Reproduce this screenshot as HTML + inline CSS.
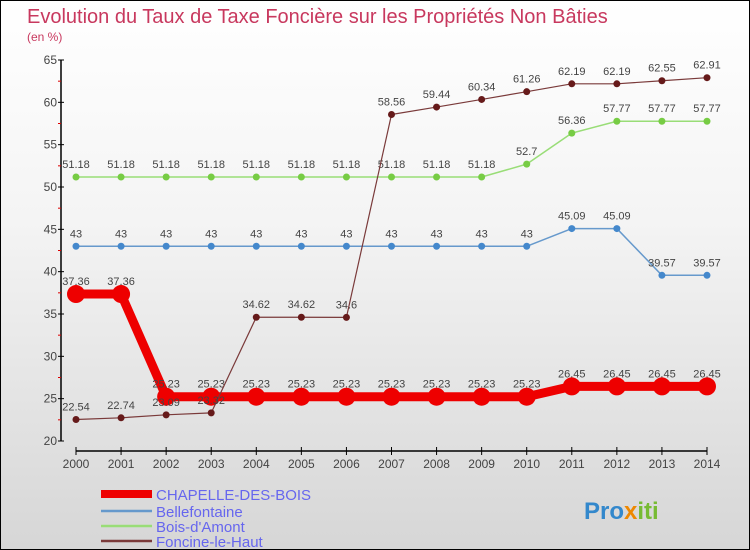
<!DOCTYPE html>
<html><head><meta charset="utf-8"><style>
body{margin:0}
#c{width:750px;height:550px;position:relative;overflow:hidden;background:linear-gradient(#ffffff,#f4f4f4 40%,#d6d6d6);box-sizing:border-box;border:1px solid #000;font-family:"Liberation Sans",sans-serif}
</style></head><body>
<div id="c">
<svg id="s" width="750" height="550" style="position:absolute;left:0;top:0">
<text x="26" y="22" font-size="20" fill="#c8385e">Evolution du Taux de Taxe Foncière sur les Propriétés Non Bâties</text>
<text x="26" y="40" font-size="12" fill="#c8385e">(en %)</text>
</svg>
</div>
<script>
const years=[2000,2001,2002,2003,2004,2005,2006,2007,2008,2009,2010,2011,2012,2013,2014];
const chapelle=[37.36,37.36,25.23,25.23,25.23,25.23,25.23,25.23,25.23,25.23,25.23,26.45,26.45,26.45,26.45];
const bellefontaine=[43,43,43,43,43,43,43,43,43,43,43,45.09,45.09,39.57,39.57];
const boisAmont=[51.18,51.18,51.18,51.18,51.18,51.18,51.18,51.18,51.18,51.18,52.7,56.36,57.77,57.77,57.77];
const foncine=[22.54,22.74,23.09,23.32,34.62,34.62,34.6,58.56,59.44,60.34,61.26,62.19,62.19,62.55,62.91];
const yTicks=[20,25,30,35,40,45,50,55,60,65];
const NS="http://www.w3.org/2000/svg";
const s=document.getElementById('s');
const xs=i=>75+i*(631/14);
const ys=v=>440-(v-20)*(381/45);
function el(t,a,p){const e=document.createElementNS(NS,t);for(const k in a)e.setAttribute(k,a[k]);(p||s).appendChild(e);return e;}
let ax=el('line',{x1:60,y1:59,x2:60,y2:440,stroke:'#000','stroke-width':1.5});


yTicks.forEach(v=>{
 el('line',{x1:57,x2:63,y1:ys(v),y2:ys(v),stroke:'#000'});
 if(v<65){let m=el('line',{x1:57,x2:60,y1:ys(v+2.5),y2:ys(v+2.5),stroke:'#d00'});}
 let t=el('text',{x:56,y:ys(v)+4,'font-size':12,fill:'#444','text-anchor':'end'});t.textContent=v;
 
 
});
let xa=el('line',{x1:75,y1:450,x2:706,y2:450,stroke:'#000','stroke-width':1.5});


years.forEach((y,i)=>{
 el('line',{x1:xs(i),x2:xs(i),y1:446,y2:454,stroke:'#000'});
 let t=el('text',{x:xs(i),y:467,'font-size':12,fill:'#444','text-anchor':'middle'});t.textContent=y;
 
 
});
function series(d,color,lw,r,ptc,name){
 const g=el('g',{});
 
 
 el('polyline',{points:d.map((v,i)=>xs(i)+','+ys(v)).join(' '),fill:'none',stroke:color,'stroke-width':lw,'stroke-linejoin':'round'},g);
 d.forEach((v,i)=>{
  let c=el('circle',{cx:xs(i),cy:ys(v),r:r,fill:ptc},g);
  
  
  let t=el('text',{x:xs(i),y:ys(v)-9,'font-size':11,fill:'#444','text-anchor':'middle'},g);t.textContent=v;
 });
}
series(boisAmont,'#99dd77',1.5,3.5,'#77cc44','series-bois-damont');
series(bellefontaine,'#6699cc',1.5,3.5,'#4488cc','series-bellefontaine');
series(chapelle,'#ee0000',9,9,'#ee0000','series-chapelle-des-bois');
series(foncine,'#7a3a3a',1.2,3.5,'#661a1a','series-foncine-le-haut');
const leg=[['CHAPELLE-DES-BOIS','#ee0000',8],['Bellefontaine','#6699cc',2.5],["Bois-d'Amont",'#99dd77',2.5],['Foncine-le-Haut','#7a3a3a',2.5]];
leg.forEach((l,i)=>{
 const y=[493,510,525,540][i];
 const g=el('g',{});
 
 
 el('line',{x1:100,x2:151,y1:y,y2:y,stroke:l[1],'stroke-width':l[2]},g);
 let t=el('text',{x:155,y:y+6,'font-size':15,fill:'#6666ee'},g);t.textContent=l[0];
});
const lg=el('text',{x:583,y:518,'font-size':24,'font-weight':'bold',fill:'#3399cc'});


lg.innerHTML='<tspan fill="#3388cc">Pro</tspan><tspan fill="#ee8800">x</tspan><tspan fill="#77bb33">iti</tspan>';
</script>
</body></html>
